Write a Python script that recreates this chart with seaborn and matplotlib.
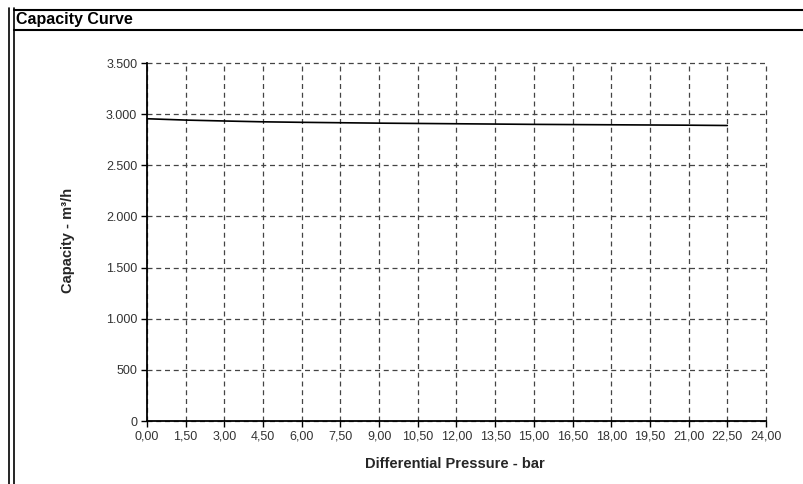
import matplotlib
matplotlib.use("Agg")
import matplotlib.pyplot as plt
import seaborn as sns
import pandas as pd
from matplotlib.lines import Line2D

pressure = [0.0, 1.5, 3.0, 4.5, 6.0, 7.5, 9.0, 10.5, 12.0, 13.5, 15.0, 16.5, 18.0, 19.5, 21.0, 22.5]
capacity = [2955, 2942, 2933, 2925, 2920, 2916, 2912, 2909, 2906, 2903, 2900, 2898, 2896, 2894, 2892, 2889]

x_ticks = [0, 1.5, 3, 4.5, 6, 7.5, 9, 10.5, 12, 13.5, 15, 16.5, 18, 19.5, 21, 22.5, 24]
x_labels = ["0,00", "1,50", "3,00", "4,50", "6,00", "7,50", "9,00", "10,50", "12,00",
            "13,50", "15,00", "16,50", "18,00", "19,50", "21,00", "22,50", "24,00"]
y_ticks = [0, 500, 1000, 1500, 2000, 2500, 3000, 3500]
y_labels = ["0", "500", "1.000", "1.500", "2.000", "2.500", "3.000", "3.500"]

sns.set_style("white")
plt.rcParams["font.family"] = ["Liberation Sans", "DejaVu Sans"]

df = pd.DataFrame({"pressure": pressure, "capacity": capacity})

W, H = 804, 484
fig = plt.figure(figsize=(W / 100, H / 100), dpi=100)
ax = fig.add_axes([147 / W, 1 - 421 / H, (766 - 147) / W, (421 - 63) / H])

sns.lineplot(data=df, x="pressure", y="capacity", ax=ax, color="black", linewidth=1.2)

ax.set_xlim(0, 24)
ax.set_ylim(0, 3500)
ax.set_xticks(x_ticks)
ax.set_xticklabels(x_labels)
ax.set_yticks(y_ticks)
ax.set_yticklabels(y_labels)
ax.tick_params(axis="both", which="both", direction="out", length=4, width=1,
               color="black", labelsize=9, labelcolor="#333333", pad=3,
               left=True, bottom=True)
ax.grid(True, color="#444444", linestyle=(0, (4, 3)), linewidth=0.9)
for gl in ax.get_xgridlines() + ax.get_ygridlines():
    gl.set_clip_on(False)
ax.set_axisbelow(True)
for s in ["top", "right"]:
    ax.spines[s].set_visible(False)
for s in ["left", "bottom"]:
    ax.spines[s].set_color("black")
    ax.spines[s].set_linewidth(1.3)

ax.set_xlabel("Differential Pressure - bar", fontsize=10.5, fontweight="bold")
ax.set_ylabel("Capacity - m³/h", fontsize=10.5, fontweight="bold")
ax.xaxis.label.set_va("center")
ax.xaxis.set_label_coords((455 - 147) / 619, (421 - 464) / 358)
ax.yaxis.label.set_va("center")
ax.yaxis.set_label_coords((68 - 147) / 619, (421 - 240) / 358)

# outer frame and header
def fx(px):
    return px / W

def fy(py):
    return 1 - py / H

fig.add_artist(Line2D([fx(9), fx(9)], [fy(8), fy(484)], color="black", lw=1.2))
fig.add_artist(Line2D([fx(14), fx(14)], [fy(8), fy(484)], color="black", lw=1.2))
fig.add_artist(Line2D([fx(14), fx(804)], [fy(10), fy(10)], color="black", lw=1.5))
fig.add_artist(Line2D([fx(14), fx(804)], [fy(29.5), fy(29.5)], color="black", lw=1.5))
fig.text(fx(16), fy(19.5), "Capacity Curve", fontsize=11.5, fontweight="bold",
         ha="left", va="center", color="black")

fig.savefig("out.png", dpi=100)
